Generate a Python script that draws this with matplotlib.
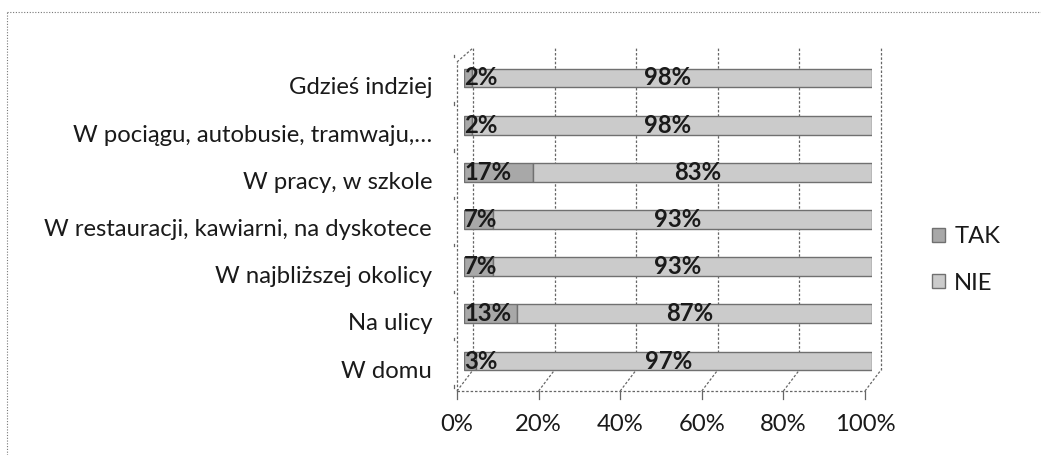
import matplotlib
matplotlib.use("Agg")
import matplotlib.pyplot as plt
import matplotlib.transforms as mtransforms
import numpy as np

plt.rcParams["font.family"] = ["Lato", "DejaVu Sans"]

categories = ["W domu", "Na ulicy", "W najbliższej okolicy",
              "W restauracji, kawiarni, na dyskotece", "W pracy, w szkole",
              "W pociągu, autobusie, tramwaju,…", "Gdzieś indziej"]
tak = [3, 13, 7, 7, 17, 2, 2]
nie = [97, 87, 93, 93, 83, 98, 98]
xticks = [0, 20, 40, 60, 80, 100]
xticklabels = ["0%", "20%", "40%", "60%", "80%", "100%"]

W, H = 1041, 455
fs = 17.2
fig = plt.figure(figsize=(W / 100, H / 100), dpi=100)

# plot area in pixels (bar plane)
x0, x1 = 464, 872
ytop, ybot = 48, 391
ax = fig.add_axes([x0 / W, 1 - ybot / H, (x1 - x0) / W, (ybot - ytop) / H])
ax.set_xlim(0, 100)
ax.set_ylim(-0.636, 6.636)
for s in ax.spines.values():
    s.set_visible(False)
ax.set_xticks([])
ax.tick_params(axis="y", length=0, pad=23, labelsize=fs)

def shift(dx, dy):
    return ax.transData + mtransforms.ScaledTranslation(dx / 100, -dy / 100, fig.dpi_scale_trans)

back = shift(9, 0)
front = shift(-7, 0)
gcol = "#666666"
lw = 0.9
ls = (0, (2, 1.5))

# back wall gridlines
yb = -0.19
for x in xticks:
    ax.plot([x, x], [yb, 6.636], color=gcol, lw=lw, ls=ls, transform=back, clip_on=False)
# floor diagonals and front edge
for x in xticks:
    xa, ya = front.transform((x, -0.636))
    xb, yb2 = back.transform((x, yb))
    ax.plot([xa, xb], [ya, yb2], color=gcol, lw=lw, ls=ls, transform=None, clip_on=False)
    ax.plot([x, x], [-0.636, -0.8], color=gcol, lw=lw, transform=front, clip_on=False)
ax.plot([0, 100], [-0.636, -0.636], color=gcol, lw=lw, ls=ls, transform=front, clip_on=False)
# left side wall
ax.plot([0, 0], [-0.636, 6.34], color=gcol, lw=lw, ls=ls, transform=front, clip_on=False)
xa, ya = front.transform((0, 6.34))
xb, yb2 = back.transform((0, 6.636))
ax.plot([xa, xb], [ya, yb2], color=gcol, lw=lw, ls=ls, transform=None, clip_on=False)
for k in range(8):
    yy = k - 0.5
    ax.plot([0, 0], [yy, yy + 0.05], color=gcol, lw=lw, transform=shift(-10, 3), clip_on=False)

# bars
y = np.arange(len(categories))
ax.barh(y, tak, height=0.4, color="#a8a8a8", edgecolor="#707070", lw=1.0, label="TAK", zorder=3)
ax.barh(y, nie, left=tak, height=0.4, color="#cbcbcb", edgecolor="#707070", lw=1.0, label="NIE", zorder=3)

for i in range(len(categories)):
    ax.text(0.0, y[i], f"{tak[i]}%", ha="left", va="center", fontsize=fs,
            fontweight="bold", color="#1a1a1a", zorder=4)
    ax.text(tak[i] + nie[i] / 2, y[i], f"{nie[i]}%", ha="center", va="center",
            fontsize=fs, fontweight="bold", color="#1a1a1a", zorder=4,
            transform=shift(-5, 0))

ax.set_yticks(y)
ax.set_yticklabels(categories)
for lbl in ax.get_yticklabels():
    lbl.set_transform(lbl.get_transform() + mtransforms.ScaledTranslation(0, -0.08, fig.dpi_scale_trans))
    lbl.set_color("#1a1a1a")

for x, t in zip(xticks, xticklabels):
    ax.text(x, -0.636, t, ha="center", va="top", fontsize=fs, color="#1a1a1a",
            transform=shift(-7, 23), clip_on=False)

leg = fig.legend(loc="center left", bbox_to_anchor=(910 / W, 1 - 260 / H), frameon=False,
                 fontsize=fs, handlelength=0.55, handleheight=0.55, labelspacing=1.05,
                 handletextpad=0.4)
for t in leg.get_texts():
    t.set_color("#1a1a1a")

# outer dotted border
fig.add_artist(plt.Line2D([7 / W, 1], [1 - 12 / H, 1 - 12 / H], color="#777777", lw=0.8, ls=(0, (1, 1.5))))
fig.add_artist(plt.Line2D([7 / W, 7 / W], [0, 1 - 12 / H], color="#777777", lw=0.8, ls=(0, (1, 1.5))))

fig.savefig("out.png", dpi=100)
